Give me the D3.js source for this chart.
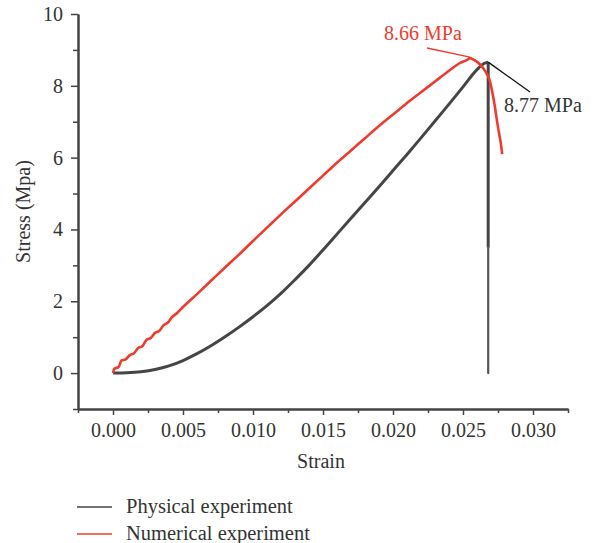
<!DOCTYPE html>
<html>
<head>
<meta charset="utf-8">
<script src="https://cdn.jsdelivr.net/npm/d3@7"></script>
<style>
  body { margin: 0; background: #fff; }
  svg text { font-family: "Liberation Serif", "DejaVu Serif", serif; fill: #333; }
</style>
</head>
<body>
<div id="chart"></div>
<script>
// strain / stress readings
const physicalStrain = [0, 0.001, 0.002, 0.003, 0.004, 0.005, 0.006, 0.007, 0.008, 0.009, 0.010,
  0.011, 0.012, 0.013, 0.014, 0.015, 0.016, 0.017, 0.018, 0.019, 0.020, 0.021, 0.022, 0.023,
  0.024, 0.025, 0.026, 0.0265, 0.0268];
const physicalStress = [0, 0.01, 0.04, 0.1, 0.2, 0.35, 0.54, 0.76, 1.01, 1.28, 1.57,
  1.88, 2.22, 2.6, 3.0, 3.43, 3.87, 4.31, 4.75, 5.19, 5.64, 6.09, 6.55, 7.02,
  7.49, 7.97, 8.45, 8.62, 8.66];
// sudden failure
const dropStrain = [0.0268, 0.0268, 0.0268];
const dropStress = [8.66, 3.5, 0];

const numericalStrain = [0, 0.0001, 0.0004, 0.0006, 0.0009, 0.0012, 0.0015, 0.0018, 0.0021, 0.0024,
  0.0027, 0.003, 0.0033, 0.0036, 0.0039, 0.0042, 0.0046, 0.005, 0.006, 0.007, 0.008, 0.009, 0.010,
  0.011, 0.012, 0.013, 0.014, 0.015, 0.016, 0.017, 0.018, 0.019, 0.020, 0.021, 0.022, 0.023,
  0.024, 0.0248, 0.0253, 0.0255, 0.0258, 0.0262, 0.0266, 0.0269, 0.0272, 0.0275, 0.0277, 0.0278];
const numericalStress = [0, 0.12, 0.17, 0.35, 0.38, 0.5, 0.55, 0.7, 0.75, 0.93,
  0.98, 1.12, 1.17, 1.33, 1.4, 1.55, 1.68, 1.84, 2.2, 2.57, 2.94, 3.3, 3.68,
  4.05, 4.42, 4.78, 5.14, 5.5, 5.86, 6.2, 6.54, 6.88, 7.2, 7.52, 7.82, 8.12,
  8.42, 8.64, 8.72, 8.77, 8.72, 8.6, 8.4, 8.16, 7.6, 6.85, 6.4, 6.1];

const xTicks = [0, 0.005, 0.010, 0.015, 0.020, 0.025, 0.030];
const xMinorTicks = [-0.0025, 0.0025, 0.0075, 0.0125, 0.0175, 0.0225, 0.0275, 0.0325];
const yTicks = [0, 2, 4, 6, 8, 10];
const yMinorTicks = [-1, 1, 3, 5, 7, 9];

const seriesNames = ["Physical experiment", "Numerical experiment"];
const seriesColors = ["#454545", "#ef3b2d"];

const width = 596, height = 543;
const margin = { top: 14, right: 28, bottom: 134, left: 78 };

const svg = d3.select("#chart").append("svg")
  .attr("width", width)
  .attr("height", height);

const x = d3.scaleLinear()
  .domain([-0.0025, 0.0325])
  .range([margin.left, width - margin.right]);
const y = d3.scaleLinear()
  .domain([-1, 10])
  .range([409, margin.top]);

// axes
const xAxis = svg.append("g")
  .attr("transform", `translate(0,${y(-1)})`)
  .call(d3.axisBottom(x).tickValues(xTicks).tickFormat(d3.format(".3f")).tickSize(6).tickPadding(8).tickSizeOuter(0));
const xMinor = svg.append("g")
  .attr("transform", `translate(0,${y(-1)})`)
  .call(d3.axisBottom(x).tickValues(xMinorTicks).tickFormat("").tickSize(4).tickSizeOuter(0));
const yAxis = svg.append("g")
  .attr("transform", `translate(${x(-0.0025)},0)`)
  .call(d3.axisLeft(y).tickValues(yTicks).tickSize(7).tickPadding(8).tickSizeOuter(0));
const yMinor = svg.append("g")
  .attr("transform", `translate(${x(-0.0025)},0)`)
  .call(d3.axisLeft(y).tickValues(yMinorTicks).tickFormat("").tickSize(5).tickSizeOuter(0));

[xAxis, xMinor, yAxis, yMinor].forEach(g => {
  g.select(".domain").attr("stroke", "#444").attr("stroke-width", 2);
  g.selectAll(".tick line").attr("stroke", "#444").attr("stroke-width", 1.5);
  g.selectAll(".tick text")
    .attr("fill", "#333")
    .style("font-family", '"Liberation Serif", serif')
    .style("font-size", "20px");
});

// axis titles
svg.append("text")
  .attr("x", x(0.015) - 2)
  .attr("y", 468)
  .attr("text-anchor", "middle")
  .style("font-size", "20px")
  .text("Strain");
svg.append("text")
  .attr("transform", `translate(30,${y(4.5)}) rotate(-90)`)
  .attr("text-anchor", "middle")
  .style("font-size", "20px")
  .text("Stress (Mpa)");

const smooth = d3.line()
  .x(d => x(d[0]))
  .y(d => y(d[1]))
  .curve(d3.curveMonotoneX);
const straight = d3.line()
  .x(d => x(d[0]))
  .y(d => y(d[1]));

const physical = physicalStrain.map((s, i) => [s, physicalStress[i]]);
const drop = dropStrain.map((s, i) => [s, dropStress[i]]);
const numerical = numericalStrain.map((s, i) => [s, numericalStress[i]]);

svg.append("path")
  .datum(physical)
  .attr("fill", "none")
  .attr("stroke", seriesColors[0])
  .attr("stroke-width", 3)
  .attr("stroke-linejoin", "round")
  .attr("d", smooth);
svg.append("path")
  .datum(drop.slice(0, 2))
  .attr("fill", "none")
  .attr("stroke", seriesColors[0])
  .attr("stroke-width", 3)
  .attr("d", straight);
svg.append("path")
  .datum(drop.slice(1))
  .attr("fill", "none")
  .attr("stroke", "#555")
  .attr("stroke-width", 2.2)
  .attr("stroke-linecap", "round")
  .attr("d", straight);
svg.append("path")
  .datum(numerical)
  .attr("fill", "none")
  .attr("stroke", seriesColors[1])
  .attr("stroke-width", 2.6)
  .attr("stroke-linejoin", "round")
  .attr("d", smooth);

// peak annotations
svg.append("line")
  .attr("x1", 427).attr("y1", 48)
  .attr("x2", x(0.0255)).attr("y2", y(8.77) - 1)
  .attr("stroke", seriesColors[1]).attr("stroke-width", 1.3);
svg.append("text")
  .attr("x", 384).attr("y", 40)
  .style("fill", seriesColors[1])
  .style("font-size", "20px")
  .text("8.66 MPa");

svg.append("line")
  .attr("x1", x(0.0268)).attr("y1", y(8.66))
  .attr("x2", 530).attr("y2", 92)
  .attr("stroke", "#111").attr("stroke-width", 1.3);
svg.append("text")
  .attr("x", 504).attr("y", 112)
  .style("font-size", "20px")
  .text("8.77 MPa");

// legend
const legend = svg.append("g");
seriesNames.forEach((name, i) => {
  const ly = 507 + i * 27;
  legend.append("line")
    .attr("x1", 77).attr("x2", 112)
    .attr("y1", ly).attr("y2", ly)
    .attr("stroke", seriesColors[i])
    .attr("stroke-width", 1.4);
  legend.append("text")
    .attr("x", 126).attr("y", ly + 6)
    .style("font-size", "20.5px")
    .text(name);
});
</script>
</body>
</html>
